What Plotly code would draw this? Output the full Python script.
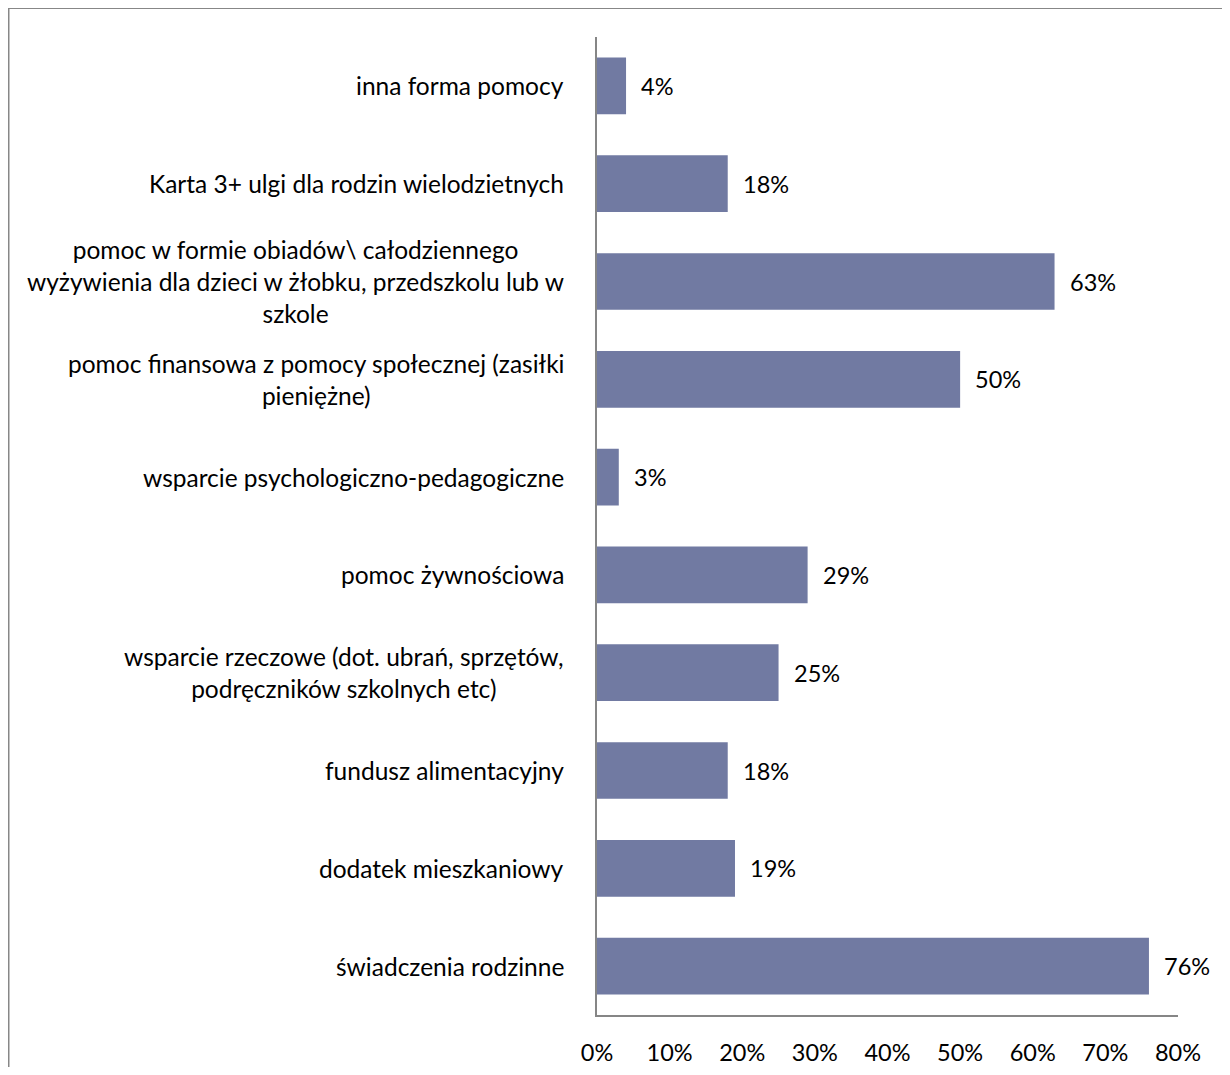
import plotly.graph_objects as go

categories = [
    "inna forma pomocy",
    "Karta 3+ ulgi dla rodzin wielodzietnych",
    "pomoc w formie obiadów\\ całodziennego<br>wyżywienia dla dzieci w żłobku, przedszkolu lub w<br>szkole",
    "pomoc finansowa z pomocy społecznej (zasiłki<br>pieniężne)",
    "wsparcie psychologiczno-pedagogiczne",
    "pomoc żywnościowa",
    "wsparcie rzeczowe (dot. ubrań, sprzętów,<br>podręczników szkolnych etc)",
    "fundusz alimentacyjny",
    "dodatek mieszkaniowy",
    "świadczenia rodzinne",
]
values = [4, 18, 63, 50, 3, 29, 25, 18, 19, 76]
x_ticks = [0, 10, 20, 30, 40, 50, 60, 70, 80]
x_tick_labels = [f"{t}%" for t in x_ticks]

FONT = "Lato"
FS = 24.5
OFF = 8  # page body margin
W, H = 1230 - OFF, 1075 - 2 * OFF
L, T = 597 - OFF, 37 - OFF
R = W - (1178 - OFF)
B = H - (1015 - OFF)
pw, ph = W - L - R, H - T - B

fig = go.Figure()
fig.add_trace(go.Bar(
    x=values, y=list(range(len(categories))), orientation="h",
    marker=dict(color="#717AA2", line=dict(width=0)),
    width=0.58, hoverinfo="skip",
))

annotations = []
for i, (c, v) in enumerate(zip(categories, values)):
    annotations.append(dict(
        x=0, y=i, xref="paper", yref="y", text=c, showarrow=False,
        xanchor="right", yanchor="middle", align="center", xshift=-31,
        font=dict(family=FONT, size=FS, color="#000000"),
    ))
    annotations.append(dict(
        x=v, y=i, xref="x", yref="y", text=f"{v}%", showarrow=False,
        xanchor="left", yanchor="middle", xshift=13,
        font=dict(family=FONT, size=23.5, color="#000000"),
    ))

fig.update_layout(
    width=W, height=H,
    margin=dict(l=L, r=R, t=T, b=B, pad=0, autoexpand=False),
    paper_bgcolor="white", plot_bgcolor="white",
    showlegend=False,
    annotations=annotations,
    xaxis=dict(
        range=[0, 80], tickvals=x_ticks, ticktext=x_tick_labels,
        showgrid=False, zeroline=False, showline=True,
        linecolor="#868686", linewidth=1.5, ticks="",
        tickfont=dict(family=FONT, size=23.5, color="#000000"),
        ticklabelstandoff=16, fixedrange=True, automargin=False,
    ),
    yaxis=dict(
        range=[len(categories) - 0.5, -0.5],
        showticklabels=False, showgrid=False, zeroline=False,
        showline=True, linecolor="#868686", linewidth=1.5, ticks="",
        fixedrange=True, automargin=False,
    ),
    shapes=[dict(
        type="rect", xref="paper", yref="paper",
        x0=0.5 / pw - L / pw, x1=2, y0=-1, y1=(H - B) / ph,
        line=dict(color="#878787", width=2), fillcolor="rgba(0,0,0,0)",
        layer="below",
    )],
)

fig.write_html("out.html")
